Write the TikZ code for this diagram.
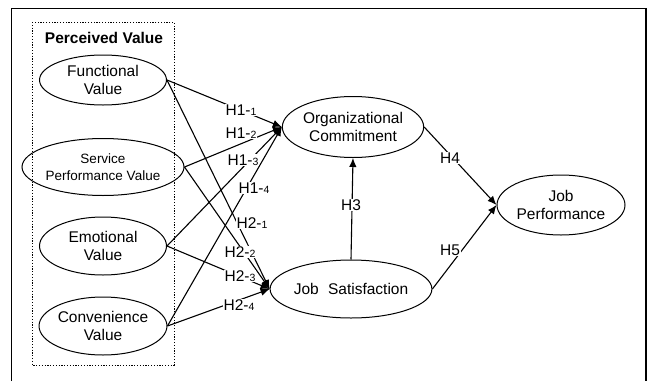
\documentclass[tikz,border=0pt]{standalone}
\usepackage{fontspec}
\setmainfont{Liberation Sans}
\usetikzlibrary{arrows.meta,shapes.geometric}
\begin{document}
\begin{tikzpicture}[x=1pt,y=-1pt,
  txt/.style={font=\fontsize{15.5}{18}\selectfont, align=center, text=black},
  var/.style={txt, draw, ellipse, line width=1pt, inner sep=0pt, minimum width=127pt, minimum height=#1},
  var/.default=57pt,
  conn/.style={line width=1.1pt, -{Latex[length=9pt,width=7.5pt]}},
  lab/.style={txt, fill=white, inner sep=1pt}]
\newcommand{\hl}[2]{H#1-{\fontsize{10.5}{12}\selectfont #2}}
\useasboundingbox (0,0) rectangle (649,381);
% outer frame
\draw[line width=1.3pt] (11.5,381) -- (11.5,8.5) -- (646,8.5) -- (646,381);
% dotted group box
\draw[line width=0.9pt, dash pattern=on 1.2pt off 1.6pt] (32,22) rectangle (174,365);
\node[txt, font=\fontsize{15.5}{18}\selectfont\bfseries] (pv) at (104,38) {Perceived Value};
% variables
\node[var=50pt] (FV) at (103,80) {Functional\\Value};
\node[var=57pt, font=\fontsize{13.5}{17}\selectfont] (SPV) at (103,167) {Service\\Performance Value};
\node[var=58pt] (EV) at (103,246) {Emotional\\Value};
\node[var=58pt] (CV) at (103,326) {Convenience\\Value};
\node[var=61pt] (OC) at (353,127) {Organizational\\Commitment};
\node[var=58pt] (JS) at (351,289) {Job\hspace{0.6em}Satisfaction};
\node[var=60pt, minimum width=128pt] (JP) at (561,205) {Job\\Performance};
% connectors
\draw[conn] (FV.east) -- (OC.west);
\draw[conn] (SPV.east) -- (OC.west);
\draw[conn] (EV.east) -- (OC.west);
\draw[conn] (CV.east) -- (OC.west);
\draw[conn] (FV.east) -- (JS.west);
\draw[conn] (SPV.east) -- (JS.west);
\draw[conn] (EV.east) -- (JS.west);
\draw[conn] (CV.east) -- (JS.west);
\draw[conn] (JS.north) -- (OC.south);
\draw[conn] (OC.east) -- (JP.west);
\draw[conn] (JS.east) -- (JP.west);
% labels
\node[lab] (l11) at (241,110) {\hl{1}{1}};
\node[lab] (l12) at (241,133) {\hl{1}{2}};
\node[lab] (l13) at (243,160) {\hl{1}{3}};
\node[lab] (l14) at (254,188) {\hl{1}{4}};
\node[lab] (l21) at (252,223) {\hl{2}{1}};
\node[lab] (l22) at (240,252) {\hl{2}{2}};
\node[lab] (l23) at (240,276) {\hl{2}{3}};
\node[lab] (l24) at (239,305) {\hl{2}{4}};
\node[lab] (l3) at (351,205) {H3};
\node[lab] (l4) at (450,158) {H4};
\node[lab] (l5) at (450,250) {H5};
\end{tikzpicture}
\end{document}
